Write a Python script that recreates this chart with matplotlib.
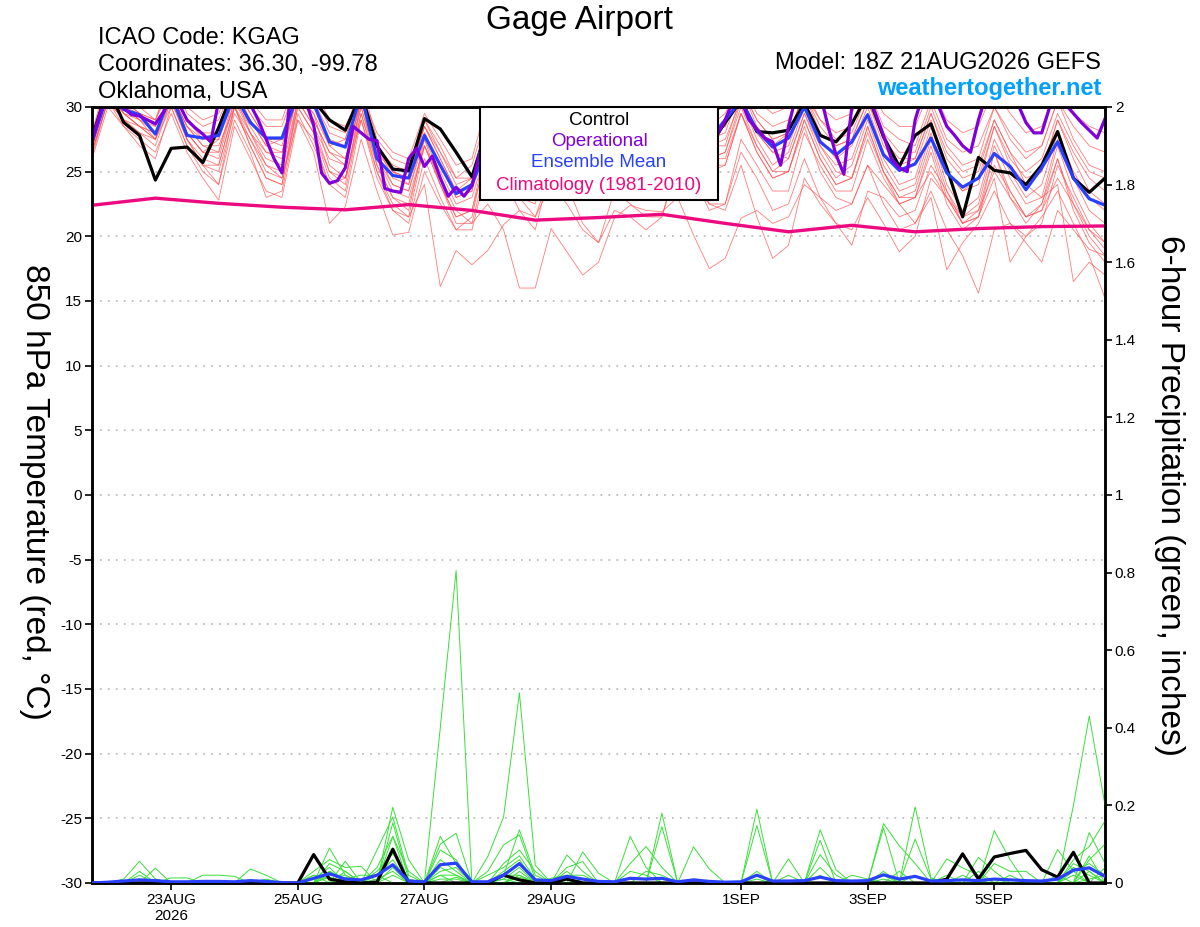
import matplotlib
matplotlib.use("Agg")
import matplotlib.pyplot as plt
import numpy as np
import pandas as pd
from matplotlib.patches import Rectangle

plt.rcParams["font.family"] = ["Liberation Sans", "DejaVu Sans"]
plt.rcParams["axes.unicode_minus"] = False

START = "2026-08-21 18:00"
times = pd.date_range(START, periods=65, freq="6h")
op_times = pd.date_range(START, periods=129, freq="3h")
clim_times = pd.date_range(START, periods=17, freq="24h")

tick_dates = pd.to_datetime(["2026-08-23", "2026-08-25", "2026-08-27", "2026-08-29",
                             "2026-09-01", "2026-09-03", "2026-09-05"])
tick_labels = ["23AUG\n2026", "25AUG", "27AUG", "29AUG", "1SEP", "3SEP", "5SEP"]

# 850 hPa temperature (C), 6-hourly
control_temp = [
    27.6,
    31.5, 28.8, 27.8, 24.35, 26.8, 26.9, 25.7, 28.4,
    31.5, 32.5, 32.5, 32.0, 31.0, 30.5, 29.0, 28.2,
    31.0, 27.0, 25.2, 25.05, 29.1, 28.3, 26.5, 24.6,
    28.5, 29.5, 28.0, 27.0, 30.5, 29.0, 27.5, 27.0,
    30.0, 29.0, 27.5, 27.0, 30.5, 29.0, 27.0, 28.8,
    30.5, 28.1, 28.0, 28.2, 30.3, 27.8, 27.3, 28.7,
    31.0, 27.7, 25.4, 27.8, 28.7, 25.3, 21.5, 26.1,
    25.1, 24.9, 24.0, 25.5, 28.1, 24.5, 23.4, 24.5,
]
mean_temp = [
    27.3,
    31.0, 29.8, 29.4, 27.9, 31.0, 27.8, 27.6, 27.8,
    31.0, 28.8, 27.6, 27.6, 31.0, 30.3, 27.3, 26.9,
    31.0, 26.0, 24.7, 24.5, 27.8, 25.5, 23.3, 24.0,
    27.0, 26.5, 25.5, 25.5, 29.0, 28.0, 26.5, 26.0,
    29.5, 28.5, 27.0, 26.5, 30.0, 28.5, 27.5, 29.0,
    30.5, 28.2, 26.9, 27.6, 30.0, 27.3, 26.3, 27.3,
    29.4, 26.3, 25.1, 25.6, 27.6, 24.9, 23.8, 24.5,
    26.4, 25.4, 23.6, 25.3, 27.3, 24.5, 22.9, 22.4,
]
# operational run, 3-hourly
oper_temp = [
    27.4, 29.5, 31.0, 31.0, 29.9, 29.4, 29.3, 29.0,
    28.7, 29.6, 31.0, 30.2, 29.0, 28.4, 27.9, 27.3,
    30.5, 31.0, 31.5, 31.0, 30.2, 29.0, 27.5, 26.0,
    24.9, 30.5, 31.5, 30.5, 28.6, 24.9, 24.1, 24.3,
    25.3, 28.5, 28.0, 27.5, 27.4, 23.7, 23.5, 23.4,
    26.0, 26.8, 25.4, 26.2, 24.5, 23.1, 23.8, 23.1,
    23.9, 26.5, 29.5, 31.0, 32.0, 31.5, 30.0, 28.5,
    27.5, 26.5, 26.0, 28.0, 30.5, 31.5, 31.0, 29.5,
    28.0, 27.0, 26.5, 28.5, 31.0, 31.5, 31.0, 29.5,
    28.5, 27.5, 27.0, 29.0, 31.0, 30.0, 28.5, 27.8,
    29.0, 30.5, 30.5, 29.0, 28.3, 27.6, 27.3, 25.5,
    28.5, 31.0, 31.5, 31.5, 31.0, 28.5, 26.3, 24.8,
    30.0, 31.0, 31.0, 29.5, 27.8, 26.0, 25.3, 25.0,
    29.0, 31.0, 31.0, 30.0, 28.5, 27.8, 27.0, 26.5,
    29.0, 31.0, 31.5, 31.5, 31.0, 30.2, 28.8, 28.0,
    28.0, 30.0, 31.0, 30.2, 29.5, 28.8, 28.2, 27.6,
    29.1,
]
clim_temp = [22.4, 22.95, 22.55, 22.25, 22.05, 22.45, 22.0, 21.25, 21.45,
             21.7, 21.0, 20.35, 20.85, 20.35, 20.6, 20.75, 20.8]

member_temp = [
    [27.8, 32.0, 30.5, 30.0, 29.0, 32.5, 29.5, 28.5, 29.0, 32.0, 30.0, 28.5, 28.5,
     32.0, 31.0, 28.5, 28.0, 32.0, 27.5, 26.0, 25.5, 29.0, 27.0, 24.5, 25.5,
     29.5, 28.5, 27.0, 27.5, 31.0, 30.0, 28.0, 27.5, 31.5, 30.0, 28.5, 28.0,
     32.0, 30.0, 28.5, 29.5, 32.0, 29.5, 28.5, 29.0, 31.5, 29.0, 28.0, 28.5,
     31.5, 28.5, 27.5, 27.0, 30.5, 27.5, 26.5, 27.0, 30.0, 28.0, 26.5, 27.0,
     30.5, 28.5, 27.0, 26.5],
    [27.0, 31.5, 29.5, 28.5, 28.0, 31.0, 28.5, 27.5, 28.0, 31.5, 29.0, 27.0, 27.5,
     31.5, 30.0, 27.0, 27.5, 31.5, 26.5, 25.0, 24.5, 28.5, 26.0, 23.5, 24.0,
     28.0, 27.0, 25.5, 25.0, 29.5, 28.5, 27.0, 26.5, 30.5, 29.0, 27.0, 26.5,
     31.0, 29.5, 27.5, 28.0, 31.5, 28.5, 27.0, 28.0, 31.0, 28.0, 27.0, 27.5,
     30.5, 27.0, 25.5, 26.0, 29.5, 26.0, 24.5, 25.0, 29.0, 26.5, 25.0, 26.0,
     29.5, 27.0, 25.0, 24.5],
    [26.5, 30.5, 29.0, 28.0, 27.0, 30.5, 28.0, 26.5, 27.5, 31.0, 28.0, 26.5, 26.5,
     31.0, 29.0, 26.5, 26.0, 30.5, 26.0, 24.0, 23.5, 27.5, 25.0, 22.5, 23.0,
     27.0, 26.0, 24.5, 24.0, 28.5, 27.5, 26.0, 25.5, 30.0, 28.5, 26.5, 26.0,
     31.0, 29.0, 27.0, 27.0, 31.0, 28.0, 26.5, 27.0, 30.5, 27.5, 26.0, 27.0,
     30.0, 26.5, 25.0, 25.5, 29.0, 25.0, 23.5, 24.5, 28.5, 26.0, 24.5, 25.0,
     29.0, 26.5, 24.5, 23.5],
    [28.0, 32.5, 31.0, 30.5, 30.0, 33.0, 30.0, 29.0, 29.5, 32.5, 30.5, 29.0, 29.0,
     32.5, 31.5, 29.0, 28.5, 31.0, 28.0, 26.5, 26.0, 29.5, 27.5, 25.5, 26.0,
     30.5, 29.0, 27.5, 28.0, 31.5, 30.5, 29.0, 28.5, 32.0, 31.0, 29.5, 29.0,
     32.5, 31.0, 29.5, 30.0, 32.5, 30.5, 29.5, 30.0, 32.0, 30.0, 29.0, 29.5,
     32.0, 29.5, 28.5, 28.5, 31.5, 29.0, 28.0, 28.5, 31.5, 29.5, 28.0, 28.5,
     31.5, 29.5, 28.5, 28.0],
    [27.2, 31.0, 29.5, 29.0, 27.5, 31.5, 28.0, 26.5, 26.0, 30.5, 28.0, 25.5, 25.0,
     30.5, 29.5, 25.5, 24.5, 30.0, 25.5, 23.0, 22.5, 27.0, 24.0, 21.5, 22.0,
     26.5, 25.0, 23.5, 23.0, 28.0, 27.0, 25.0, 24.5, 29.5, 28.0, 26.0, 25.0,
     30.5, 28.5, 26.0, 26.5, 30.0, 27.0, 25.0, 26.0, 29.5, 26.5, 24.5, 25.5,
     29.0, 25.5, 23.5, 24.0, 28.0, 24.0, 22.0, 23.0, 27.5, 25.0, 23.0, 24.0,
     28.0, 25.0, 23.0, 22.0],
    [26.8, 31.0, 30.0, 29.5, 28.5, 30.5, 27.5, 25.5, 24.0, 30.0, 27.0, 24.5, 24.0,
     30.5, 28.5, 25.0, 24.0, 30.5, 27.0, 24.5, 24.0, 29.0, 26.5, 24.5, 24.5,
     29.0, 28.0, 26.0, 26.5, 30.5, 29.5, 27.5, 27.0, 31.0, 29.5, 27.5, 27.0,
     31.5, 29.5, 28.0, 28.5, 31.5, 29.0, 27.5, 28.0, 31.0, 29.0, 27.5, 28.0,
     31.0, 28.0, 26.5, 26.5, 30.0, 27.0, 25.5, 26.0, 30.0, 27.5, 26.0, 27.0,
     30.5, 27.5, 25.5, 25.0],
    [26.0, 30.0, 28.5, 27.5, 26.5, 29.5, 26.5, 24.5, 22.8, 28.5, 26.0, 23.5, 23.0,
     29.0, 27.5, 24.0, 23.0, 29.0, 24.5, 22.0, 21.0, 26.0, 23.0, 20.5, 20.5,
     25.5, 24.5, 23.0, 22.5, 27.0, 26.0, 24.0, 23.5, 28.5, 27.0, 25.0, 24.5,
     29.5, 27.5, 25.5, 25.5, 29.5, 26.5, 24.5, 25.0, 29.0, 26.0, 24.0, 24.5,
     28.5, 25.0, 23.0, 23.5, 27.5, 23.5, 21.5, 22.5, 27.0, 24.5, 22.5, 23.0,
     27.5, 24.5, 22.0, 21.0],
    [27.5, 31.5, 30.0, 29.0, 28.5, 31.0, 28.5, 27.0, 27.0, 30.0, 27.5, 25.5, 24.5,
     29.0, 26.5, 21.0, 22.3, 27.5, 23.5, 20.1, 20.3, 25.0, 22.5, 20.5, 21.5,
     27.0, 26.0, 25.0, 24.5, 29.0, 28.0, 26.5, 26.0, 30.0, 28.5, 27.0, 26.5,
     30.5, 28.0, 26.0, 26.5, 30.5, 27.5, 25.5, 26.5, 30.0, 27.0, 25.5, 26.0,
     29.5, 26.0, 24.0, 24.5, 28.5, 25.0, 23.5, 24.0, 28.5, 25.5, 24.0, 25.0,
     29.0, 26.0, 23.5, 22.5],
    [26.5, 30.5, 29.0, 28.0, 27.5, 30.0, 27.0, 25.5, 25.0, 29.5, 27.5, 25.0, 24.5,
     30.0, 28.0, 25.0, 24.5, 29.0, 25.0, 22.5, 21.5, 24.0, 16.1, 18.9, 17.8,
     18.9, 20.9, 22.0, 21.5, 25.0, 25.5, 24.0, 23.5, 27.5, 27.0, 25.5, 25.0,
     29.0, 27.5, 26.0, 26.0, 29.5, 26.5, 24.5, 25.0, 29.0, 26.0, 24.0, 24.5,
     28.5, 25.0, 23.0, 23.0, 27.0, 23.0, 21.0, 22.0, 26.5, 23.5, 21.5, 22.5,
     27.0, 23.5, 21.0, 19.5],
    [27.0, 31.0, 29.5, 28.5, 28.0, 30.5, 27.5, 26.0, 25.5, 30.0, 28.0, 26.0, 25.5,
     30.5, 28.5, 26.0, 25.5, 30.0, 26.0, 23.5, 23.0, 27.0, 24.5, 22.0, 21.0,
     22.5, 20.5, 16.0, 16.0, 20.6, 18.8, 17.0, 18.0, 21.4, 22.4, 22.0, 21.9,
     23.0, 20.1, 17.5, 18.3, 21.4, 22.0, 21.0, 21.5, 24.0, 23.0, 22.0, 22.5,
     25.5, 24.0, 22.5, 23.0, 25.0, 23.0, 21.5, 22.0, 25.0, 23.0, 21.5, 22.0,
     24.5, 22.5, 20.5, 19.0],
    [26.2, 30.5, 28.5, 27.0, 26.0, 30.0, 27.0, 25.0, 24.0, 29.0, 26.5, 23.0, 23.5,
     29.5, 27.0, 24.0, 24.5, 29.5, 25.5, 23.0, 22.0, 27.5, 24.0, 21.5, 22.0,
     27.5, 26.5, 25.0, 24.0, 28.5, 27.0, 25.0, 24.0, 28.0, 26.0, 24.0, 23.0,
     27.5, 25.0, 22.5, 22.0, 25.5, 21.5, 18.3, 19.3, 24.5, 22.5, 21.0, 20.5,
     23.0, 21.0, 18.8, 20.0, 24.5, 23.0, 21.0, 21.5, 25.5, 23.5, 21.5, 22.0,
     26.0, 22.0, 19.5, 18.0],
    [27.3, 31.0, 30.0, 29.0, 28.0, 31.0, 28.5, 27.0, 26.5, 31.0, 29.0, 27.0, 26.5,
     31.0, 29.5, 27.0, 26.0, 30.5, 27.0, 25.0, 24.0, 28.0, 25.5, 23.0, 23.5,
     28.0, 26.0, 23.0, 21.5, 24.0, 22.5, 20.5, 19.5, 22.0, 21.5, 20.5, 21.5,
     25.5, 24.0, 22.5, 22.5, 26.5, 24.5, 22.0, 22.5, 26.0, 23.0, 21.0, 19.3,
     23.5, 23.0, 21.5, 22.0, 25.5, 23.5, 21.0, 21.5, 24.5, 18.0, 20.0, 21.0,
     25.5, 23.0, 20.5, 19.5],
    [26.8, 31.5, 30.5, 29.5, 29.0, 31.5, 29.0, 27.5, 27.5, 31.5, 29.5, 27.5, 27.0,
     31.5, 30.0, 27.5, 27.0, 31.0, 27.0, 25.5, 25.0, 28.5, 26.5, 24.0, 24.5,
     29.0, 27.5, 26.0, 26.5, 30.0, 29.0, 27.0, 26.0, 30.5, 29.0, 26.5, 26.0,
     30.0, 27.5, 25.0, 25.5, 29.5, 27.0, 25.0, 25.0, 28.5, 25.0, 23.0, 22.5,
     25.5, 22.5, 20.5, 21.0, 23.0, 17.4, 19.5, 21.0, 23.5, 21.0, 19.5, 18.0,
     22.0, 20.5, 19.0, 18.5],
    [27.0, 31.0, 29.5, 28.5, 27.5, 31.0, 28.0, 26.5, 26.5, 30.5, 28.5, 26.5, 26.0,
     31.0, 29.0, 26.5, 25.5, 30.5, 26.5, 24.0, 23.5, 28.0, 25.5, 23.0, 23.5,
     28.5, 27.0, 25.5, 25.5, 29.5, 28.5, 26.5, 26.0, 30.0, 28.5, 27.0, 26.5,
     31.0, 28.5, 27.0, 27.5, 30.5, 28.0, 26.5, 26.0, 29.5, 27.0, 25.0, 24.5,
     28.0, 25.0, 22.5, 21.0, 23.5, 20.5, 18.5, 15.6, 20.5, 21.0, 20.0, 21.5,
     23.5, 21.0, 18.5, 15.2],
    [27.5, 32.0, 30.5, 29.5, 29.0, 32.0, 29.0, 28.0, 28.0, 31.5, 29.5, 27.5, 27.5,
     31.5, 30.5, 28.0, 27.5, 31.5, 27.0, 25.0, 24.5, 28.5, 26.0, 23.5, 24.5,
     29.0, 28.0, 26.5, 26.5, 30.5, 29.5, 28.0, 27.5, 31.0, 29.5, 28.0, 27.5,
     31.5, 29.5, 28.0, 28.5, 31.5, 29.0, 27.5, 28.0, 31.0, 28.5, 27.0, 27.5,
     30.5, 27.5, 26.0, 26.0, 29.5, 26.5, 25.0, 25.5, 29.0, 26.5, 24.0, 23.0,
     24.0, 16.5, 18.0, 17.0],
    [26.6, 30.5, 29.0, 28.5, 27.5, 30.5, 27.5, 25.5, 25.5, 30.0, 27.0, 24.5, 24.0,
     30.0, 28.0, 24.5, 23.5, 29.5, 25.0, 22.0, 21.5, 27.0, 24.0, 21.0, 21.0,
     26.0, 24.5, 22.0, 20.5, 25.5, 24.0, 21.0, 19.5, 23.5, 22.5, 21.5, 21.5,
     26.0, 24.5, 22.0, 22.5, 27.5, 25.5, 23.5, 23.5, 28.0, 25.5, 23.5, 23.5,
     27.5, 24.5, 22.5, 23.0, 26.5, 22.5, 20.5, 21.5, 26.5, 23.0, 21.0, 22.5,
     26.0, 22.5, 20.0, 18.5],
]

# 6-hour precipitation (inches)
control_precip = [
    0,
    0, 0, 0, 0, 0, 0, 0, 0,
    0, 0, 0, 0, 0, 0.073, 0.01, 0.003,
    0, 0.002, 0.087, 0, 0, 0, 0, 0,
    0, 0.02, 0.008, 0, 0, 0.01, 0, 0,
    0, 0, 0, 0, 0, 0, 0, 0,
    0, 0, 0, 0, 0, 0, 0, 0,
    0, 0, 0, 0, 0, 0.01, 0.075, 0.01,
    0.067, 0.076, 0.084, 0.034, 0.015, 0.079, 0, 0,
]
mean_precip = [
    0,
    0.002, 0.005, 0.008, 0.006, 0.003, 0.003, 0.004, 0.004,
    0.003, 0.006, 0.004, 0.001, 0.0, 0.012, 0.024, 0.01,
    0.008, 0.02, 0.047, 0.005, 0.003, 0.047, 0.051, 0.003,
    0.003, 0.02, 0.05, 0.008, 0.006, 0.017, 0.01, 0.004,
    0.003, 0.012, 0.01, 0.012, 0.003, 0.008, 0.004, 0.002,
    0.003, 0.02, 0.005, 0.005, 0.006, 0.015, 0.006, 0.005,
    0.006, 0.021, 0.01, 0.017, 0.005, 0.006, 0.008, 0.006,
    0.01, 0.008, 0.006, 0.005, 0.01, 0.033, 0.039, 0.017,
]
# members: non-zero 6-hour totals by time step, all other steps are 0
member_precip = [
    {3: 0.02, 15: 0.03, 19: 0.12, 22: 0.40, 23: 0.805, 27: 0.02, 34: 0.12,
     35: 0.04, 50: 0.02, 63: 0.13, 64: 0.05},
    {4: 0.038, 14: 0.02, 16: 0.056, 19: 0.195, 20: 0.06, 25: 0.068, 26: 0.17,
     27: 0.49, 28: 0.046, 36: 0.145, 42: 0.02, 52: 0.196, 53: 0.013,
     62: 0.2, 63: 0.43, 64: 0.2},
    {2: 0.01, 3: 0.056, 4: 0.01, 15: 0.09, 16: 0.02, 18: 0.085, 19: 0.17,
     20: 0.02, 22: 0.12, 23: 0.05, 26: 0.02, 27: 0.137, 28: 0.02, 30: 0.072,
     31: 0.03, 42: 0.19, 46: 0.137, 47: 0.034, 57: 0.135, 58: 0.06,
     62: 0.06, 63: 0.094, 64: 0.16},
    {10: 0.036, 11: 0.02, 14: 0.03, 15: 0.06, 16: 0.04, 17: 0.043, 19: 0.155,
     20: 0.01, 22: 0.10, 23: 0.128, 25: 0.03, 26: 0.098, 27: 0.124, 28: 0.01,
     31: 0.08, 32: 0.025, 36: 0.18, 50: 0.153, 51: 0.096, 52: 0.05,
     61: 0.086, 62: 0.03, 63: 0.05, 64: 0.02},
    {7: 0.02, 8: 0.02, 9: 0.017, 15: 0.05, 16: 0.03, 18: 0.04, 19: 0.12,
     20: 0.03, 22: 0.085, 23: 0.06, 26: 0.05, 27: 0.085, 28: 0.03, 30: 0.04,
     31: 0.055, 34: 0.05, 35: 0.094, 36: 0.04, 42: 0.148, 44: 0.062,
     46: 0.11, 50: 0.142, 54: 0.062, 55: 0.039, 56: 0.02, 62: 0.05, 63: 0.03},
    {14: 0.01, 15: 0.04, 18: 0.03, 19: 0.076, 20: 0.01, 22: 0.06, 23: 0.03,
     25: 0.02, 26: 0.04, 27: 0.07, 28: 0.01, 38: 0.093, 39: 0.036, 46: 0.073,
     47: 0.02, 52: 0.113, 53: 0.01, 56: 0.066, 57: 0.03, 63: 0.06, 64: 0.1},
    {3: 0.03, 5: 0.013, 6: 0.013, 15: 0.02, 16: 0.02, 19: 0.09, 22: 0.04,
     23: 0.02, 26: 0.03, 27: 0.06, 30: 0.03, 34: 0.03, 35: 0.02, 42: 0.03,
     50: 0.03, 54: 0.02, 57: 0.05, 58: 0.03, 59: 0.03, 62: 0.04, 63: 0.02},
    {15: 0.03, 16: 0.01, 17: 0.02, 18: 0.02, 19: 0.06, 22: 0.03, 23: 0.04,
     26: 0.01, 27: 0.04, 29: 0.012, 30: 0.02, 31: 0.02, 44: 0.02, 46: 0.04,
     51: 0.03, 56: 0.03, 61: 0.02, 63: 0.07},
    {16: 0.03, 19: 0.04, 22: 0.02, 23: 0.02, 27: 0.03, 35: 0.03, 36: 0.02,
     48: 0.02, 49: 0.01, 55: 0.02, 62: 0.03, 64: 0.04},
    {14: 0.02, 15: 0.01, 18: 0.01, 19: 0.03, 22: 0.01, 23: 0.01, 26: 0.02,
     27: 0.02, 31: 0.01, 46: 0.02, 52: 0.02, 58: 0.02, 63: 0.03},
    {3: 0.01, 11: 0.01, 15: 0.015, 19: 0.02, 23: 0.015, 27: 0.015, 42: 0.01,
     57: 0.01, 62: 0.02},
    {4: 0.01, 16: 0.015, 18: 0.02, 22: 0.02, 26: 0.01, 30: 0.01, 50: 0.01,
     63: 0.01, 64: 0.02},
]

RED = "#ff5050"
GREEN = "#3ade3a"
PURPLE = "#8000dc"
BLUE = "#2a40ff"
PINK = "#ec0a80"
SKY = "#00a0ff"

fig = plt.figure(figsize=(12, 9.27), dpi=100)
ax = fig.add_axes([0.0767, 0.0475, 0.8442, 0.8371])
ax2 = ax.twinx()

# temperature (left axis)
for values in member_temp:
    ax.plot(times, values, color=RED, lw=0.6, alpha=0.75, zorder=2)
ax.plot(clim_times, clim_temp, color=PINK, lw=2.4, zorder=3)
ax.plot(times, control_temp, color="black", lw=2.3, zorder=4)
ax.plot(times, mean_temp, color=BLUE, lw=2.3, zorder=5)
ax.plot(op_times, oper_temp, color=PURPLE, lw=2.3, zorder=6)

# precipitation (right axis)
for steps in member_precip:
    values = np.zeros(len(times))
    for k, v in steps.items():
        values[k] = v
    ax2.plot(times, values, color=GREEN, lw=0.7, zorder=2)
ax2.plot(times, control_precip, color="black", lw=2.3, zorder=4)
ax2.plot(times, mean_precip, color=BLUE, lw=2.3, zorder=5)

ax.set_xlim(times[0], times[-1])
ax.set_ylim(-30, 30)
ax.set_yticks(range(-30, 31, 5))
ax.grid(axis="y", color="#b4b4b4", linestyle=(0, (1.2, 4.0)), linewidth=1.1)
ax2.set_ylim(0, 2)
p_ticks = np.round(np.arange(0, 2.01, 0.2), 1)
ax2.set_yticks(p_ticks)
ax2.set_yticklabels([f"{v:g}" for v in p_ticks])

ax.set_xticks(tick_dates)
ax.set_xticklabels(tick_labels)

for a in (ax, ax2):
    for s in a.spines.values():
        s.set_linewidth(1.8)
ax.tick_params(axis="both", direction="out", length=5, width=1.2, labelsize=11, pad=2)
ax2.tick_params(axis="y", direction="out", length=5, width=1.2, labelsize=11, pad=2)

# legend box
ax2.add_patch(Rectangle((0.383, 0.880), 0.235, 0.120, transform=ax2.transAxes,
                        facecolor="white", edgecolor="black", lw=1.5, zorder=10,
                        clip_on=False))
legend_items = [("Control", "black"), ("Operational", PURPLE),
                ("Ensemble Mean", BLUE), ("Climatology (1981-2010)", PINK)]
for (label, color), y in zip(legend_items, [0.982, 0.955, 0.928, 0.899]):
    ax2.text(0.5005, y, label, color=color, fontsize=13.5, ha="center", va="center",
             transform=ax2.transAxes, zorder=11)

# header texts
fig.text(0.483, 0.978, "Gage Airport", fontsize=24, ha="center", va="center")
fig.text(0.0817, 0.959, "ICAO Code: KGAG", fontsize=17, ha="left", va="center")
fig.text(0.0817, 0.930, "Coordinates: 36.30, -99.78", fontsize=17, ha="left", va="center")
fig.text(0.0817, 0.901, "Oklahoma, USA", fontsize=17, ha="left", va="center")
fig.text(0.9175, 0.932, "Model: 18Z 21AUG2026 GEFS", fontsize=17, ha="right", va="center")
fig.text(0.9175, 0.904, "weathertogether.net", fontsize=17, fontweight="bold",
         color=SKY, ha="right", va="center")

fig.text(0.029, 0.469, "850 hPa Temperature (red, °C)", fontsize=24, rotation=270,
         ha="center", va="center")
fig.text(0.975, 0.466, "6-hour Precipitation (green, inches)", fontsize=24,
         rotation=270, ha="center", va="center")

fig.savefig("out.png", dpi=100)
